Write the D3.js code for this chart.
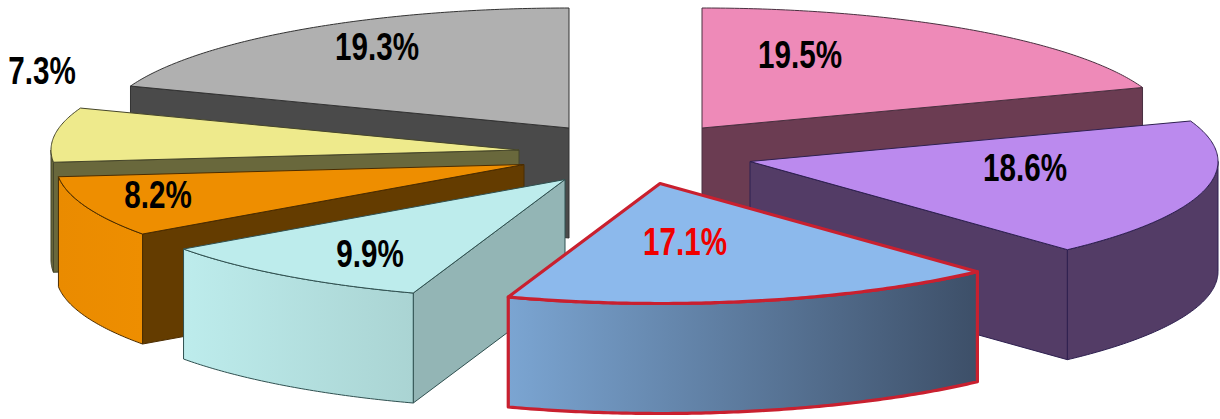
<!DOCTYPE html>
<html>
<head>
<meta charset="utf-8">
<script src="https://cdn.jsdelivr.net/npm/d3@7/dist/d3.min.js"></script>
<style>
html,body{margin:0;padding:0;background:#fff;}
svg{display:block;}
text{font-family:"Liberation Sans",Arial,sans-serif;font-weight:700;}
</style>
</head>
<body>
<svg id="chart" width="1220" height="419"></svg>
<script>
// Data (clockwise from 12 o'clock)
const labels = ["19.5%","18.6%","17.1%","9.9%","8.2%","7.3%","19.3%"];
const values = [19.5,18.6,17.1,9.9,8.2,7.3,19.3];

// Styles
const topColors  = ["#ee8ab8","#bb8aee","#8cb9ec","#bdecec","#ee8e00","#eeea8c","#b0b0b0"];
const faceColors = ["#6b3c52","#533c66","#3f5269","#93b5b5","#643c00","#69683c","#4a4a4a"];
const wallFrom   = ["#6b3c52","#533c66","#7ba5d2","#bdecec","#ea8b00","#69683c","#4a4a4a"];
const wallTo     = ["#6b3c52","#533c66","#3d4f68","#aad4d3","#ee8e00","#69683c","#4a4a4a"];
const strokes    = ["#4a3040","#2e2050","#c9202f","#2f5050","#4a2c00","#45452a","#333333"];
const strokeW    = [1,1,3.2,1,1,1,1];
const textColors = ["#000","#000","#f00000","#000","#000","#000","#000"];

// Layout
const apexX = [702,750,660,565,524,519,569];
const apexY = [128,161.5,183.5,179.5,164.5,150,128];
const labelX = [800,1025,685,370,158,42,377];
const labelY = [54,167,241,253,194,70,46];
const drawOrder = [0,6,5,4,1,3,2];
const radiusX = 468, radiusY = 120, depth = 110;

const svg = d3.select("#chart");
const defs = svg.append("defs");

const pie = d3.pie().sort(null).startAngle(0).endAngle(2*Math.PI);
const arcs = pie(values);

const sx = d3.scaleLinear().domain([-1,1]).range([-radiusX,radiusX]);
const sy = d3.scaleLinear().domain([-1,1]).range([-radiusY,radiusY]);
const line = d3.line().x(d=>d[0]).y(d=>d[1]);

function rim(i,a,dz=0){
  return [apexX[i]+sx(Math.sin(a)), apexY[i]-sy(Math.cos(a))+dz];
}
function rimPts(i,a0,a1,dz=0){
  const n = Math.max(2,Math.ceil((a1-a0)/0.01));
  return d3.range(n+1).map(k=>rim(i,a0+(a1-a0)*k/n,dz));
}
function closed(p){return line(p)+"Z";}

values.forEach((v,i)=>{
  const g = defs.append("linearGradient").attr("id","wall"+i)
    .attr("x1",0).attr("x2",1).attr("y1",0).attr("y2",0);
  g.append("stop").attr("offset",0).attr("stop-color",wallFrom[i]);
  g.append("stop").attr("offset",1).attr("stop-color",wallTo[i]);
});

drawOrder.forEach(i=>{
  const a0 = arcs[i].startAngle, a1 = arcs[i].endAngle;
  const g = svg.append("g").attr("class","slice");
  const style = s=>s.attr("stroke",strokes[i]).attr("stroke-width",strokeW[i]).attr("stroke-linejoin","round");
  const apex = [apexX[i],apexY[i]], apexB=[apexX[i],apexY[i]+depth];
  // radial cut faces that look toward the viewer
  if(Math.sin(a0)<0){
    g.append("path").attr("d",closed([apex,rim(i,a0),rim(i,a0,depth),apexB])).attr("fill",faceColors[i]).call(style);
  }
  if(Math.sin(a1)>0){
    g.append("path").attr("d",closed([apex,rim(i,a1),rim(i,a1,depth),apexB])).attr("fill",faceColors[i]).call(style);
  }
  // outer wall, front half only
  const w0 = Math.max(a0,Math.PI/2), w1 = Math.min(a1,3*Math.PI/2);
  if(w1>w0){
    const pts = rimPts(i,w0,w1).concat(rimPts(i,w0,w1,depth).reverse());
    g.append("path").attr("d",closed(pts)).attr("fill",`url(#wall${i})`).call(style);
  }
  // top
  g.append("path").attr("d",closed([apex].concat(rimPts(i,a0,a1)))).attr("fill",topColors[i]).call(style);
});

const xStretch = 0.76;
svg.append("g").selectAll("text").data(labels).join("text")
  .attr("transform",(d,i)=>`translate(${labelX[i]},${labelY[i]}) scale(${xStretch},1)`)
  .attr("text-anchor","middle").attr("dominant-baseline","central")
  .attr("font-size",39).attr("fill",(d,i)=>textColors[i]).text(d=>d);
</script>
</body>
</html>
